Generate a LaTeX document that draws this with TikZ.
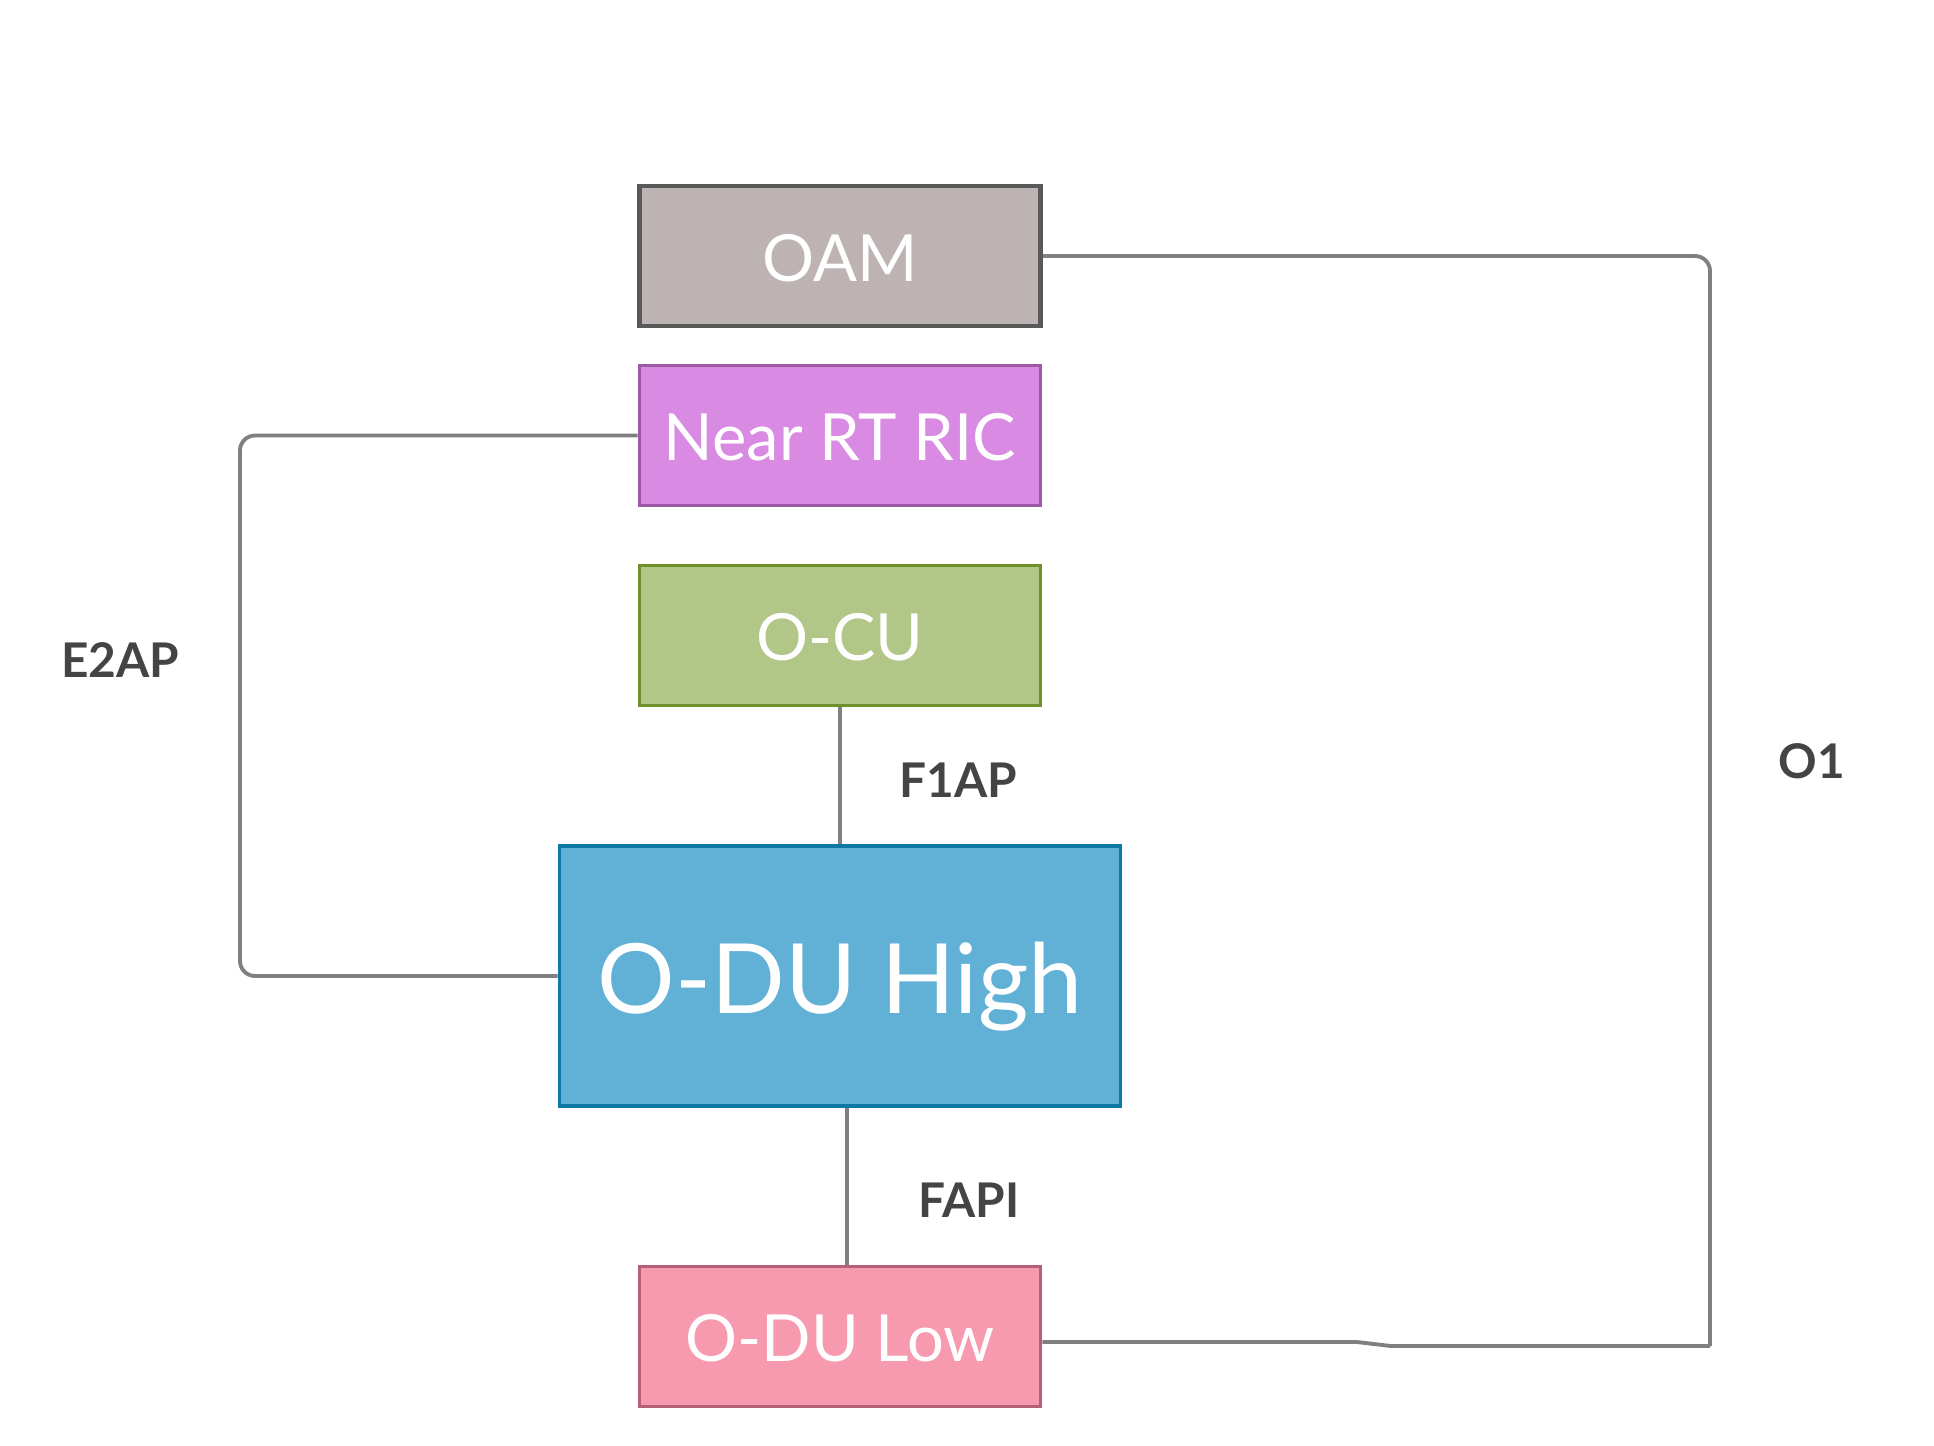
\documentclass[tikz,border=0pt]{standalone}
\usepackage{fontspec}
\setmainfont{Lato}
\usetikzlibrary{positioning}

\definecolor{oamfill}{HTML}{BDB3B2}
\definecolor{oamline}{HTML}{595959}
\definecolor{ricfill}{HTML}{D98BE3}
\definecolor{ricline}{HTML}{9B59A6}
\definecolor{cufill}{HTML}{B2C687}
\definecolor{culine}{HTML}{6E8F2A}
\definecolor{hifill}{HTML}{61B0D5}
\definecolor{hiline}{HTML}{0E77A6}
\definecolor{lofill}{HTML}{F79AB0}
\definecolor{loline}{HTML}{B85F78}
\definecolor{linkgray}{HTML}{808080}
\definecolor{labelgray}{HTML}{444444}

\begin{document}
\begin{tikzpicture}[
    block/.style={draw, line width=1.1pt, minimum width=4.01cm, minimum height=1.40cm,
      inner sep=0pt, text=white, text height=0.5cm, text depth=0pt,
      font=\fontsize{18.5}{22}\selectfont},
    link/.style={draw=linkgray, line width=1.1pt, rounded corners=0.15cm},
    iface/.style={text=labelgray, font=\bfseries\fontsize{13.6}{16}\selectfont}
  ]
    \useasboundingbox (0, 0) rectangle (19.34, -14.45);

    \node[block, fill=oamfill, draw=oamline, line width=1.4pt] (oam) at (8.40, -2.56) {OAM};
    \node[block, fill=ricfill, draw=ricline] (ric) at (8.40, -4.355) {Near RT RIC};
    \node[block, fill=cufill, draw=culine] (ocu) at (8.40, -6.355) {O-CU};
    \node[block, fill=hifill, draw=hiline, minimum width=5.61cm, minimum height=2.60cm,
      text height=0.752cm, font=\fontsize{27.6}{32}\selectfont] (oduhigh) at (8.40, -9.76) {O-DU High};
    \node[block, fill=lofill, draw=loline] (odulow) at (8.40, -13.365) {O-DU Low};

    \coordinate (o1top) at (17.10, -2.56);
    \coordinate (o1end) at (17.10, -13.46);
    \coordinate (e2top) at (2.40, -4.355);
    \coordinate (e2bot) at (2.40, -9.76);

    % O1
    \draw[link] (oam.east) -- (o1top) -- (o1end);
    \draw[link, rounded corners=0pt] ([yshift=-0.055cm]odulow.east) -- (13.57, -13.42) -- (13.91, -13.46) -- (o1end);
    % E2AP
    \draw[link] (ric.west) -- (e2top) -- (e2bot) -- (oduhigh.west);
    % F1AP, FAPI
    \draw[link] (ocu.south) -- (oduhigh.north);
    \draw[link] ([xshift=0.07cm]oduhigh.south) -- ([xshift=0.07cm]odulow.north);

    \node[iface] (e2ap) at (1.20, -6.60) {E2AP};
    \node[iface] (o1) at (18.12, -7.61) {O1};
    \node[iface] (f1ap) at (9.58, -7.80) {F1AP};
    \node[iface] (fapi) at (9.69, -12.00) {FAPI};
\end{tikzpicture}
\end{document}
